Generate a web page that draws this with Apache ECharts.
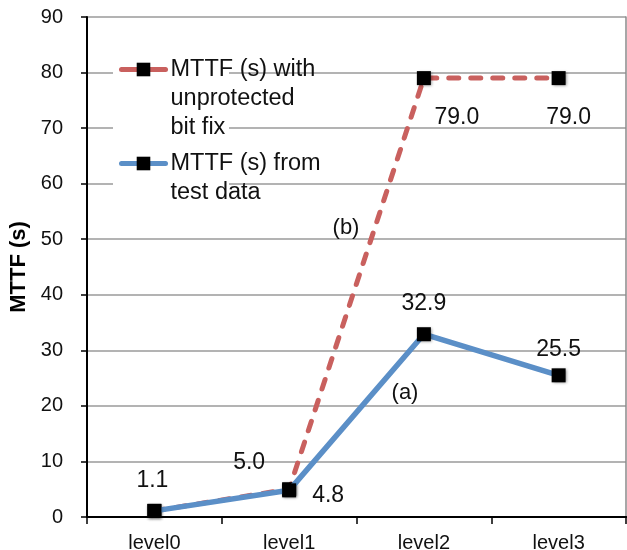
<!DOCTYPE html>
<html>
<head>
<meta charset="utf-8">
<script src="https://cdn.jsdelivr.net/npm/echarts@6/dist/echarts.min.js"></script>
<style>html,body{margin:0;padding:0;background:#fff}#c{width:627px;height:550px}</style>
</head>
<body>
<div id="c"></div>
<script>
// ---- data ----
const categories = ['level0', 'level1', 'level2', 'level3'];
const fixName = 'MTTF (s) with\nunprotected\nbit fix';
const testName = 'MTTF (s) from\ntest data';
const fixValues = [1.1, 5.0, 79.0, 79.0];
const testValues = [1.1, 4.8, 32.9, 25.5];
const yTicks = [0, 10, 20, 30, 40, 50, 60, 70, 80, 90];
const yAxisTitle = 'MTTF (s)';
const annotations = ['(a)', '(b)'];

// ---- presentation ----
const FONT = '"Liberation Sans", Arial, Helvetica, sans-serif';
const RED = '#c9605e';
const BLUE = '#5b8fc7';
const fixLabelOffsets = [null, [-40, -27], [33, 40], [10, 40]];
const testLabelOffsets = [[-2, -30], [39, 5], [0, -31], [0, -26]];

function buildData(values, offsets) {
  return values.map((v, i) => ({
    value: v,
    label: offsets[i] ? { show: true, position: 'inside', offset: offsets[i] } : { show: false }
  }));
}
// put the legend icon level with the first line of its (multi-line) text
function topAligned(name) {
  const n = name.split('\n').length;
  return '\n'.repeat(n - 1) + name;
}

const labelStyle = {
  color: '#111', fontSize: 23, fontFamily: FONT,
  formatter: p => p.value.toFixed(1)
};
const markerStyle = {
  color: '#000', borderColor: '#000', borderWidth: 0,
  shadowBlur: 3, shadowColor: 'rgba(0,0,0,0.45)', shadowOffsetX: 1, shadowOffsetY: 1
};
const legendBase = {
  left: 119, padding: 0, itemWidth: 44, itemHeight: 17,
  lineStyle: { type: 'solid', width: 5, cap: 'round' },
  textStyle: { color: '#111', fontSize: 23.5, lineHeight: 29, fontFamily: FONT },
  formatter: topAligned,
  selectedMode: false
};

const chart = echarts.init(document.getElementById('c'), null, { renderer: 'canvas' });
chart.setOption({
  backgroundColor: '#fff',
  animation: false,
  grid: { left: 87, right: 1, top: 17, bottom: 33, containLabel: false, outerBoundsMode: 'none' },
  xAxis: [{
    type: 'category', data: categories, boundaryGap: true,
    axisLine: { lineStyle: { color: '#000', width: 2 } },
    axisTick: { show: true, length: 7, lineStyle: { color: '#000', width: 1.5 } },
    axisLabel: { color: '#111', fontSize: 20, fontFamily: FONT, margin: 16 },
    splitLine: { show: false }
  }, {
    type: 'category', data: categories, position: 'top',
    axisLine: { lineStyle: { color: '#000', width: 2 } },
    axisTick: { show: false }, axisLabel: { show: false }, splitLine: { show: false }
  }],
  yAxis: [{
    type: 'value', min: yTicks[0], max: yTicks[yTicks.length - 1], interval: yTicks[1] - yTicks[0],
    name: yAxisTitle, nameLocation: 'middle', nameGap: 50, nameRotate: 90,
    nameTextStyle: { color: '#000', fontSize: 22, fontWeight: 'bold', fontFamily: FONT },
    axisLine: { show: true, lineStyle: { color: '#000', width: 2 } },
    axisTick: { show: true, length: 6, lineStyle: { color: '#000', width: 1.5 } },
    axisLabel: { color: '#111', fontSize: 20, fontFamily: FONT, margin: 24 },
    splitLine: { show: true, lineStyle: { color: '#9a9a9a', width: 1.5 } }
  }, {
    type: 'value', min: yTicks[0], max: yTicks[yTicks.length - 1], position: 'right',
    axisLine: { show: true, lineStyle: { color: '#8a8a8a', width: 1.5 } },
    axisTick: { show: false }, axisLabel: { show: false }, splitLine: { show: false }
  }],
  legend: [
    Object.assign({}, legendBase, { data: [fixName], top: -3 }),
    Object.assign({}, legendBase, { data: [testName], top: 120 })
  ],
  graphic: [
    { type: 'rect', z: 1, shape: { x: 113, y: 50, width: 116, height: 155 }, style: { fill: '#fff' } },
    { type: 'text', z: 5, x: 405, y: 393, style: { text: annotations[0], fontSize: 22, fontFamily: FONT, fill: '#111', align: 'center', verticalAlign: 'middle' } },
    { type: 'text', z: 5, x: 346, y: 228, style: { text: annotations[1], fontSize: 22, fontFamily: FONT, fill: '#111', align: 'center', verticalAlign: 'middle' } }
  ],
  series: [{
    name: fixName, type: 'line', z: 2,
    data: buildData(fixValues, fixLabelOffsets),
    symbol: 'rect', symbolSize: 14,
    lineStyle: { color: RED, width: 5, type: [10, 12], cap: 'round' },
    itemStyle: Object.assign({}, markerStyle),
    label: labelStyle,
    color: RED
  }, {
    name: testName, type: 'line', z: 3,
    data: buildData(testValues, testLabelOffsets),
    symbol: 'rect', symbolSize: 14,
    lineStyle: { color: BLUE, width: 5.5 },
    itemStyle: Object.assign({}, markerStyle),
    label: labelStyle,
    color: BLUE
  }]
});
</script>
</body>
</html>
